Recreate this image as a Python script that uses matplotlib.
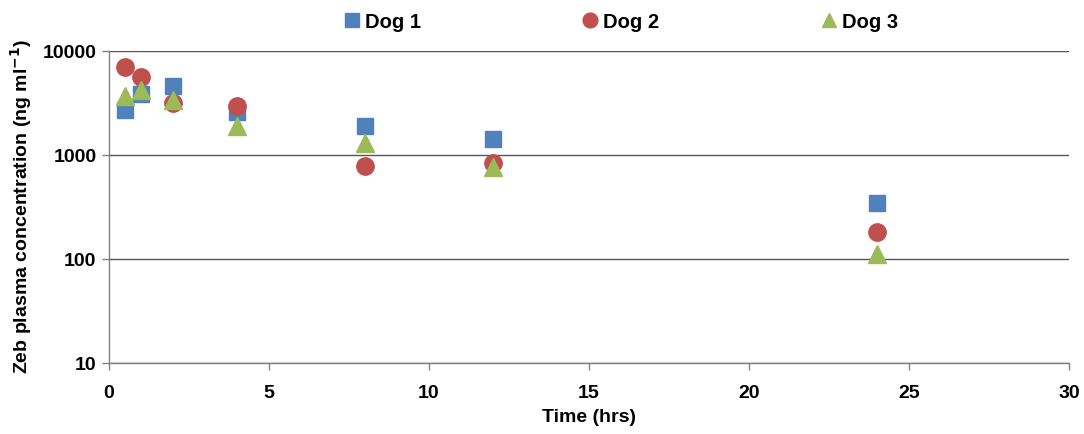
import matplotlib
matplotlib.use("Agg")
import matplotlib.pyplot as plt
from matplotlib.ticker import FixedLocator, NullLocator, FixedFormatter

plt.rcParams['font.family'] = ['Liberation Sans', 'DejaVu Sans']

time = [0.5, 1, 2, 4, 8, 12, 24]
dog1 = [2710, 3830, 4640, 2610, 1900, 1416, 343]
dog2 = [6970, 5590, 3140, 2980, 783, 843, 181]
dog3 = [3690, 4220, 3380, 1900, 1295, 773, 112]
series_names = ["Dog 1", "Dog 2", "Dog 3"]
x_ticks = [0, 5, 10, 15, 20, 25, 30]
y_ticks = [10, 100, 1000, 10000]

fig = plt.figure(figsize=(10.84, 4.34), dpi=100)
ax = fig.add_axes([109/1084, 1 - 363/434, 960/1084, 312/434])

ax.plot(time, dog1, linestyle='none', marker='s', markersize=12, color='#4F81BD', label=series_names[0], zorder=3)
ax.plot(time, dog2, linestyle='none', marker='o', markersize=12.5, color='#C0504D', label=series_names[1], zorder=4)
ax.plot(time, dog3, linestyle='none', marker='^', markersize=12.5, color='#9BBB59', label=series_names[2], zorder=5)

ax.set_yscale('log')
ax.set_ylim(10, 10000)
ax.set_xlim(0, 30)
ax.yaxis.set_major_locator(FixedLocator(y_ticks))
ax.yaxis.set_major_formatter(FixedFormatter([str(v) for v in y_ticks]))
ax.yaxis.set_minor_locator(NullLocator())
ax.set_xticks(x_ticks)
ax.set_xticklabels([str(v) for v in x_ticks])

for s in ['top', 'right']:
    ax.spines[s].set_visible(False)
for s in ['left', 'bottom']:
    ax.spines[s].set_color('#808080')
    ax.spines[s].set_linewidth(1.0)
ax.grid(axis='y', which='major', color='#555555', linewidth=1.0, zorder=1)
ax.set_axisbelow(True)
ax.tick_params(axis='both', direction='out', length=5, color='#808080', width=1,
               labelsize=14)
ax.tick_params(axis='x', pad=11)
ax.tick_params(axis='y', pad=4)
for lbl in ax.get_xticklabels() + ax.get_yticklabels():
    lbl.set_fontweight('bold')

ax.set_xlabel('Time (hrs)', fontsize=14, fontweight='bold', labelpad=5)
ax.set_ylabel('Zeb plasma concentration (ng ml$^{\\mathbf{-1}}$)', fontsize=14, fontweight='bold', labelpad=6)

leg = fig.legend(loc='center', bbox_to_anchor=(620/1084, 1 - 22/434), ncol=3, frameon=False,
                 prop={'weight': 'bold', 'size': 14.5}, handletextpad=0.15, columnspacing=7.9,
                 handlelength=1.0, markerscale=0.85)

fig.savefig('out.png', dpi=100)
